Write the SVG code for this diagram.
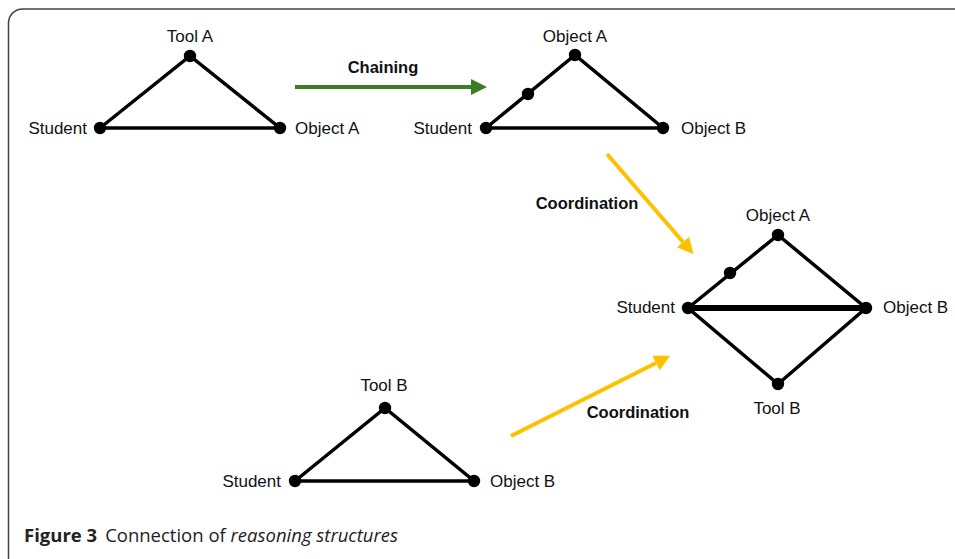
<svg xmlns="http://www.w3.org/2000/svg" width="955" height="559" viewBox="0 0 955 559">
  <style>
    .edge { stroke: #000; stroke-width: 3.5; fill: none; stroke-linecap: round; }
    .thick { stroke: #000; stroke-width: 6; fill: none; }
    .dot { fill: #000; }
    .lbl { font-family: "Liberation Sans", Arial, sans-serif; font-size: 17px; fill: #111; }
    .blbl { font-family: "Liberation Sans", Arial, sans-serif; font-size: 16.5px; font-weight: bold; fill: #111; }
    .cap { font-family: "Open Sans", "Liberation Sans", sans-serif; font-size: 18.5px; fill: #222; }
    .green { stroke: #3A7D22; stroke-width: 4; fill: none; }
    .yellow { stroke: #FFC000; stroke-width: 4; fill: none; }
  </style>
  <defs>
    <marker id="headGreen" markerWidth="4" markerHeight="4" refX="0" refY="2" orient="auto" markerUnits="strokeWidth">
      <path d="M0,0 L4,2 L0,4 Z" fill="#3A7D22"/>
    </marker>
    <marker id="headYellow" markerWidth="4" markerHeight="4" refX="0" refY="2" orient="auto" markerUnits="strokeWidth">
      <path d="M0,0 L4,2 L0,4 Z" fill="#FFC000"/>
    </marker>
  </defs>

  <rect width="955" height="559" fill="#fff"/>
  <!-- figure frame -->
  <path d="M8.5 559 L8.5 23 A14 14 0 0 1 22.5 9 L955 9" fill="none" stroke="#444" stroke-width="1.5"/>

  <!-- structure 1: Student / Tool A / Object A -->
  <g id="structure-tool-a">
    <path class="edge" d="M100 128 L190 56 L280 128 Z"/>
    <circle class="dot" cx="190" cy="56" r="6.2"/>
    <circle class="dot" cx="100" cy="128" r="6.2"/>
    <circle class="dot" cx="280" cy="128" r="6.2"/>
    <text class="lbl" x="190" y="42" text-anchor="middle">Tool A</text>
    <text class="lbl" x="87" y="134" text-anchor="end">Student</text>
    <text class="lbl" x="295" y="134">Object A</text>
  </g>

  <!-- structure 2: chained objects -->
  <g id="structure-chained">
    <path class="edge" d="M486 128 L575 55 L663 128 Z"/>
    <circle class="dot" cx="575" cy="55" r="6.2"/>
    <circle class="dot" cx="528" cy="94" r="6.2"/>
    <circle class="dot" cx="486" cy="128" r="6.2"/>
    <circle class="dot" cx="663" cy="128" r="6.2"/>
    <text class="lbl" x="575" y="42" text-anchor="middle">Object A</text>
    <text class="lbl" x="472" y="134" text-anchor="end">Student</text>
    <text class="lbl" x="681" y="134">Object B</text>
  </g>

  <!-- structure 3: Student / Tool B / Object B -->
  <g id="structure-tool-b">
    <path class="edge" d="M295 481 L385 408 L474 481 Z"/>
    <circle class="dot" cx="385" cy="408" r="6.2"/>
    <circle class="dot" cx="295" cy="481" r="6.2"/>
    <circle class="dot" cx="474" cy="481" r="6.2"/>
    <text class="lbl" x="384" y="391" text-anchor="middle">Tool B</text>
    <text class="lbl" x="281" y="487" text-anchor="end">Student</text>
    <text class="lbl" x="490" y="487">Object B</text>
  </g>

  <!-- structure 4: coordinated result -->
  <g id="structure-coordinated">
    <path class="edge" d="M688 308 L778 235 L866 308 L778 384 Z"/>
    <line class="thick" x1="688" y1="308" x2="866" y2="308"/>
    <circle class="dot" cx="778" cy="235" r="6.2"/>
    <circle class="dot" cx="730" cy="273" r="6.2"/>
    <circle class="dot" cx="688" cy="308" r="6.2"/>
    <circle class="dot" cx="866" cy="308" r="6.2"/>
    <circle class="dot" cx="778" cy="384" r="6.2"/>
    <text class="lbl" x="778" y="221" text-anchor="middle">Object A</text>
    <text class="lbl" x="675" y="313" text-anchor="end">Student</text>
    <text class="lbl" x="883" y="313">Object B</text>
    <text class="lbl" x="777" y="414" text-anchor="middle">Tool B</text>
  </g>

  <!-- transitions -->
  <g id="connectors">
    <line class="green" x1="295" y1="87" x2="471" y2="87" marker-end="url(#headGreen)"/>
    <text class="blbl" x="383" y="73" text-anchor="middle">Chaining</text>

    <line class="yellow" x1="607" y1="154" x2="683" y2="242" marker-end="url(#headYellow)"/>
    <text class="blbl" x="587" y="209" text-anchor="middle">Coordination</text>

    <line class="yellow" x1="511" y1="436" x2="656" y2="363" marker-end="url(#headYellow)"/>
    <text class="blbl" x="638" y="418" text-anchor="middle">Coordination</text>
  </g>

  <!-- caption -->
  <text class="cap" x="24" y="542"><tspan font-weight="bold">Figure 3</tspan><tspan dx="8">Connection of </tspan><tspan font-style="italic">reasoning structures</tspan></text>
</svg>
